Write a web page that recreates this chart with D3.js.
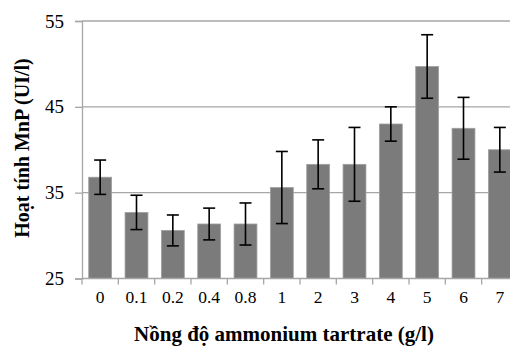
<!DOCTYPE html>
<html><head><meta charset="utf-8">
<script src="https://cdn.jsdelivr.net/npm/d3@7"></script>
<style>html,body{margin:0;padding:0;background:#fff;overflow:hidden}</style>
</head><body>
<script>
const categories = ["0","0.1","0.2","0.4","0.8","1","2","3","4","5","6","7"];
const values = [36.8, 32.7, 30.6, 31.35, 31.35, 35.6, 38.3, 38.3, 43.0, 49.7, 42.5, 40.0];
const errors = [2.0, 2.0, 1.8, 1.85, 2.45, 4.2, 2.85, 4.3, 2.0, 3.7, 3.6, 2.6];
const yTicks = [25, 35, 45, 55];
const yTitle = "Hoạt tính MnP (UI/l)";
const xTitle = "Nồng độ ammonium tartrate (g/l)";

const W = 510, H = 347;
const svg = d3.select("body").append("svg").attr("width", W).attr("height", H);
const x = d3.scaleBand().domain(categories).range([82, 518]).paddingInner(0.37).paddingOuter(0.185);
const y = d3.scaleLinear().domain([25, 55]).range([278.5, 21]);
const serif = "'Liberation Serif','Times New Roman',serif";

// gridlines
svg.append("g").selectAll("line").data(yTicks.slice(1)).join("line")
  .attr("x1", 82).attr("x2", 518).attr("y1", d => y(d)).attr("y2", d => y(d))
  .attr("stroke", "#a6a6a6").attr("stroke-width", 1.3);

// bars
svg.append("g").selectAll("rect").data(categories).join("rect")
  .attr("x", d => x(d)).attr("width", x.bandwidth())
  .attr("y", (d, i) => y(values[i])).attr("height", (d, i) => y(25) - y(values[i]))
  .attr("fill", "#7b7b7b").attr("stroke", "#a0a0a0").attr("stroke-width", 0.8);

// y axis
const yAxis = d3.axisLeft(y).tickValues(yTicks).tickSize(7).tickPadding(11).tickFormat(d3.format("d"));
const gy = svg.append("g").attr("transform", "translate(82,0)").call(yAxis);
gy.select(".domain").attr("stroke", "#a6a6a6").attr("stroke-width", 1.3);
gy.selectAll(".tick line").attr("stroke", "#a6a6a6").attr("stroke-width", 1.3);
gy.selectAll("text").attr("font-family", serif).attr("font-size", 19).attr("fill", "#000");

// x axis
const xAxis = d3.axisBottom(x).tickSize(0).tickPadding(12);
const gx = svg.append("g").attr("transform", `translate(0,${y(25)})`).call(xAxis);
gx.select(".domain").attr("stroke", "#a6a6a6").attr("stroke-width", 1.3).attr("d", "M82,0H518");
gx.selectAll("text").attr("font-family", serif).attr("font-size", 17.5).attr("fill", "#000");
const step = x.step();
svg.append("g").selectAll("line").data(d3.range(categories.length + 1)).join("line")
  .attr("x1", i => 82 + i * step).attr("x2", i => 82 + i * step)
  .attr("y1", y(25)).attr("y2", y(25) + 6)
  .attr("stroke", "#a6a6a6").attr("stroke-width", 1.3);

// error bars
const eb = svg.append("g").attr("stroke", "#000").attr("stroke-width", 1.6);
categories.forEach((c, i) => {
  const cx = x(c) + x.bandwidth() / 2;
  const t = y(values[i] + errors[i]), b = y(values[i] - errors[i]);
  eb.append("line").attr("x1", cx).attr("x2", cx).attr("y1", t).attr("y2", b);
  eb.append("line").attr("x1", cx - 6).attr("x2", cx + 6).attr("y1", t).attr("y2", t);
  eb.append("line").attr("x1", cx - 6).attr("x2", cx + 6).attr("y1", b).attr("y2", b);
});

// titles
svg.append("text").attr("transform", "translate(29,148) rotate(-90)")
  .attr("text-anchor", "middle").attr("font-family", serif).attr("font-weight", "bold")
  .attr("font-size", 20).text(yTitle);
svg.append("text").attr("x", 284).attr("y", 341)
  .attr("text-anchor", "middle").attr("font-family", serif).attr("font-weight", "bold")
  .attr("font-size", 21).text(xTitle);
</script>
</body></html>
